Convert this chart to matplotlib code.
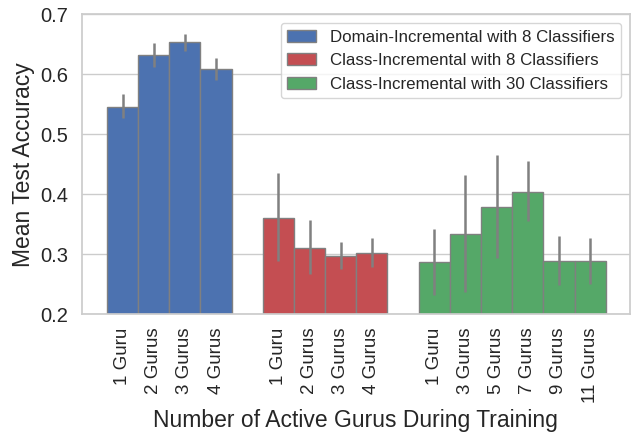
import matplotlib
matplotlib.use('Agg')
import matplotlib.pyplot as plt
import seaborn as sns
import numpy as np

# values
domain8_labels = ['1 Guru', '2 Gurus', '3 Gurus', '4 Gurus']
domain8_mean = [0.546, 0.632, 0.654, 0.609]
domain8_lo = [0.527, 0.613, 0.639, 0.591]
domain8_hi = [0.567, 0.653, 0.668, 0.627]

class8_labels = ['1 Guru', '2 Gurus', '3 Gurus', '4 Gurus']
class8_mean = [0.361, 0.311, 0.297, 0.302]
class8_lo = [0.289, 0.267, 0.275, 0.279]
class8_hi = [0.435, 0.357, 0.320, 0.327]

class30_labels = ['1 Guru', '3 Gurus', '5 Gurus', '7 Gurus', '9 Gurus', '11 Gurus']
class30_mean = [0.287, 0.334, 0.379, 0.404, 0.289, 0.289]
class30_lo = [0.232, 0.238, 0.294, 0.356, 0.249, 0.251]
class30_hi = [0.343, 0.433, 0.466, 0.455, 0.331, 0.327]

sns.set_theme(style='whitegrid')
plt.rcParams['font.family'] = ['Liberation Sans', 'DejaVu Sans']

fig, ax = plt.subplots(figsize=(6.38, 4.36), dpi=100)

groups = [
    ('Domain-Incremental with 8 Classifiers', '#4C72B0', domain8_labels, domain8_mean, domain8_lo, domain8_hi),
    ('Class-Incremental with 8 Classifiers', '#C44E52', class8_labels, class8_mean, class8_lo, class8_hi),
    ('Class-Incremental with 30 Classifiers', '#55A868', class30_labels, class30_mean, class30_lo, class30_hi),
]

ticks = []
ticklabels = []
start = 0
for name, color, labels, mean, lo, hi in groups:
    x = np.arange(start, start + len(mean))
    mean = np.array(mean)
    yerr = [mean - np.array(lo), np.array(hi) - mean]
    ax.bar(x, mean, width=1.0, color=color, edgecolor='gray', linewidth=1.0,
           label=name, zorder=2)
    ax.errorbar(x, mean, yerr=yerr, fmt='none', ecolor='gray', elinewidth=1.8,
                capsize=0, zorder=3)
    ticks += list(x)
    ticklabels += labels
    start += len(mean) + 1

ax.set_xticks(ticks)
ax.set_xticklabels(ticklabels, rotation=90, fontsize=13.5)
ax.tick_params(axis='y', labelsize=14.5)
ax.set_xlim(-1.31, 16.27)
ax.set_ylim(0.2, 0.7)
ax.set_yticks([0.2, 0.3, 0.4, 0.5, 0.6, 0.7])
ax.set_ylabel('Mean Test Accuracy', fontsize=16.5)
ax.set_xlabel('Number of Active Gurus During Training', fontsize=16.5)
ax.grid(axis='x', visible=False)

ax.legend(loc='upper right', fontsize=12.2, handlelength=1.7)

fig.subplots_adjust(left=0.128, right=0.987, top=0.967, bottom=0.279)
fig.savefig('out.png', dpi=100)
